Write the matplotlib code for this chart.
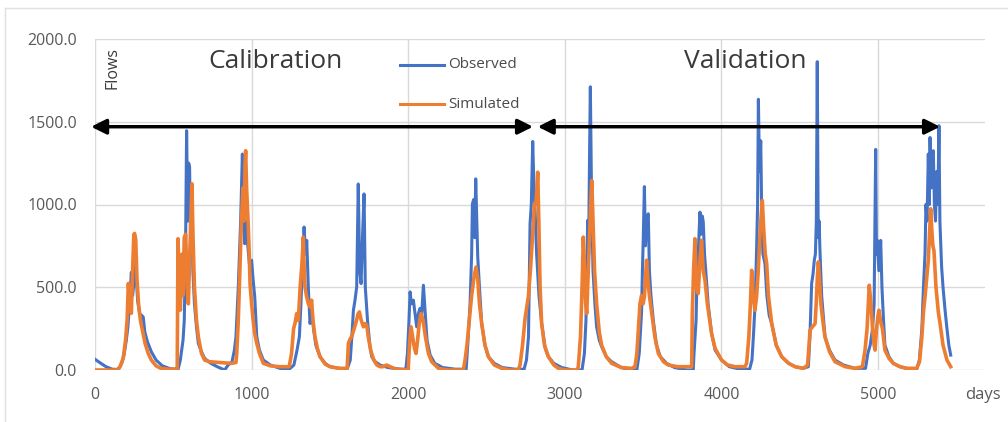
import matplotlib
matplotlib.use("Agg")
import matplotlib.pyplot as plt
from matplotlib.lines import Line2D

plt.rcParams['font.family'] = ['Open Sans', 'DejaVu Sans']

# observed flows, vertices (day, flow)
obs_day = [0, 30, 70, 110, 150, 170, 185, 200, 210, 222, 232, 240, 248, 256, 264, 272, 285, 298, 308, 318, 335, 360, 390, 430, 480, 530,
           545, 555, 562, 570, 578, 585, 592, 598, 604, 610, 618, 625, 635, 648, 660, 680, 700, 740, 780, 828, 850, 875, 890,
           900, 915, 930, 941, 948, 956, 965, 975, 988, 1000, 1010, 1020, 1033, 1050, 1075, 1120, 1180, 1240,
           1270, 1290, 1305, 1315, 1325, 1335, 1345, 1352, 1362, 1373, 1385, 1395, 1410, 1437, 1470, 1500, 1560, 1610,
           1630, 1640, 1650, 1660, 1671, 1681, 1690, 1699, 1708, 1718, 1726, 1740, 1755, 1767, 1790, 1820, 1870, 1950, 1985,
           1995, 2005, 2012, 2020, 2033, 2045, 2054, 2065, 2075, 2085, 2097, 2108, 2120, 2140, 2170, 2220, 2300, 2370,
           2380, 2395, 2405, 2410, 2418, 2425, 2431, 2438, 2444, 2455, 2469, 2490, 2512, 2550, 2600, 2680, 2740,
           2755, 2768, 2778, 2786, 2795, 2803, 2810, 2820, 2835, 2852, 2875, 2895, 2930, 2980, 3050, 3110,
           3125, 3135, 3146, 3152, 3157, 3163, 3170, 3180, 3192, 3203, 3220, 3235, 3265, 3299, 3360, 3427, 3460,
           3475, 3490, 3495, 3501, 3508, 3515, 3522, 3533, 3540, 3550, 3565, 3585, 3610, 3650, 3700, 3780, 3820,
           3825, 3838, 3845, 3852, 3858, 3863, 3870, 3878, 3884, 3892, 3900, 3915, 3937, 3960, 4001, 4050, 4120, 4180,
           4195, 4204, 4215, 4225, 4231, 4236, 4243, 4251, 4258, 4265, 4278, 4290, 4305, 4321, 4350, 4385, 4430, 4470, 4523, 4555,
           4565, 4576, 4585, 4593, 4600, 4606, 4612, 4618, 4624, 4629, 4640, 4661, 4690, 4725, 4780, 4853, 4920,
           4935, 4950, 4965, 4975, 4985, 4990, 4996, 5005, 5017, 5025, 5035, 5044, 5070, 5098, 5140, 5183, 5247,
           5264, 5280, 5290, 5300, 5306, 5313, 5321, 5327, 5332, 5340, 5346, 5353, 5360, 5367, 5375, 5382, 5389, 5395, 5406, 5415, 5428, 5440, 5452, 5464]
obs_flow = [65, 45, 20, 5, 3, 40, 90, 180, 260, 420, 590, 450, 520, 640, 560, 420, 340, 330, 320, 230, 170, 110, 60, 25, 8, 3,
            60, 130, 180, 300, 700, 1446, 900, 1250, 1225, 800, 1000, 600, 400, 260, 160, 110, 70, 40, 20, 0, 30, 50, 120,
            200, 500, 900, 1305, 1000, 763, 900, 760, 620, 663, 540, 443, 200, 120, 60, 30, 10, 5,
            30, 120, 201, 400, 650, 864, 700, 783, 500, 281, 350, 250, 150, 80, 40, 20, 10, 5,
            60, 200, 361, 420, 502, 1124, 600, 522, 800, 1064, 500, 300, 150, 80, 50, 30, 15, 5, 5,
            100, 300, 472, 400, 422, 330, 261, 340, 372, 320, 512, 350, 180, 90, 40, 15, 5, 5,
            150, 400, 700, 1004, 1030, 800, 1155, 900, 682, 500, 281, 150, 80, 40, 15, 5, 5,
            60, 200, 883, 1000, 1381, 1100, 964, 700, 450, 281, 130, 80, 40, 15, 0, 0,
            100, 300, 904, 700, 1225, 1711, 1100, 600, 400, 261, 180, 141, 80, 50, 15, 0, 0,
            100, 350, 582, 800, 1108, 750, 900, 944, 600, 450, 300, 150, 80, 40, 15, 0, 0,
            100, 300, 600, 700, 850, 954, 820, 930, 894, 700, 600, 400, 221, 120, 60, 20, 5, 5,
            60, 201, 400, 743, 1000, 1636, 1200, 1385, 900, 700, 643, 450, 330, 281, 150, 80, 40, 20, 10, 20,
            200, 522, 580, 663, 700, 900, 1863, 800, 900, 723, 450, 201, 120, 60, 30, 10, 10,
            100, 150, 250, 400, 1333, 700, 783, 600, 783, 500, 300, 150, 80, 40, 20, 10, 5,
            60, 250, 500, 703, 1000, 900, 1305, 1000, 1405, 1100, 1300, 1325, 1000, 900, 1200, 1000, 1476, 900, 622, 500, 361, 250, 150, 90]

# simulated flows
sim_day = [0, 140, 160, 180, 195, 205, 213, 220, 232, 240, 248, 253, 260, 268, 278, 290, 305, 320, 340, 360, 390, 420, 470, 520,
           525, 530, 538, 545, 555, 562, 570, 579, 588, 596, 605, 612, 619, 626, 635, 648, 660, 680, 700, 730, 800, 870, 900,
           905, 915, 925, 935, 945, 952, 958, 962, 968, 979, 985, 990, 1000, 1010, 1020, 1033, 1050, 1075, 1120, 1180, 1240,
           1255, 1268, 1277, 1288, 1298, 1310, 1322, 1330, 1336, 1341, 1350, 1362, 1375, 1383, 1392, 1405, 1420, 1437, 1470, 1500, 1560, 1610,
           1618, 1630, 1639, 1655, 1670, 1680, 1688, 1700, 1714, 1725, 1735, 1745, 1760, 1780, 1800, 1820, 1840, 1862, 1885, 1920, 2000,
           2005, 2012, 2018, 2028, 2040, 2050, 2060, 2070, 2082, 2095, 2110, 2129, 2150, 2193, 2250, 2352,
           2363, 2375, 2390, 2405, 2420, 2433, 2444, 2455, 2469, 2490, 2512, 2550, 2597, 2650, 2703,
           2714, 2730, 2746, 2757, 2767, 2780, 2790, 2800, 2806, 2815, 2822, 2827, 2834, 2842, 2852, 2870, 2895, 2930, 2959, 3000, 3080,
           3086, 3100, 3110, 3118, 3126, 3133, 3140, 3150, 3158, 3165, 3172, 3180, 3190, 3203, 3220, 3235, 3265, 3299, 3360, 3427, 3448,
           3460, 3470, 3480, 3490, 3500, 3508, 3515, 3522, 3530, 3540, 3555, 3575, 3597, 3630, 3661, 3720, 3810,
           3814, 3822, 3831, 3840, 3852, 3862, 3873, 3884, 3895, 3910, 3925, 3937, 3960, 4001, 4040, 4086, 4150,
           4161, 4175, 4185, 4193, 4203, 4214, 4225, 4235, 4245, 4255, 4261, 4270, 4280, 4289, 4300, 4321, 4350, 4385, 4430, 4470, 4523, 4550,
           4566, 4580, 4590, 4598, 4605, 4612, 4619, 4626, 4635, 4647, 4661, 4690, 4725, 4790, 4853, 4900,
           4917, 4930, 4944, 4955, 4965, 4975, 4981, 4990, 5000, 5006, 5015, 5028, 5044, 5070, 5098, 5140, 5183, 5247,
           5265, 5280, 5290, 5300, 5310, 5321, 5330, 5336, 5343, 5350, 5357, 5370, 5385, 5396, 5415, 5440, 5464]
sim_flow = [0, 0, 20, 70, 180, 300, 523, 420, 343, 600, 820, 825, 790, 550, 400, 300, 230, 160, 100, 60, 25, 10, 5, 5,
            10, 793, 500, 362, 700, 450, 800, 820, 500, 400, 700, 900, 1125, 800, 500, 300, 200, 100, 60, 50, 45, 40, 45,
            100, 300, 600, 900, 1100, 900, 1250, 1325, 1100, 864, 700, 522, 400, 300, 220, 161, 100, 40, 25, 20, 20,
            100, 250, 281, 341, 300, 500, 650, 803, 600, 502, 450, 400, 380, 422, 300, 200, 130, 80, 35, 20, 10, 10,
            161, 190, 201, 250, 300, 340, 351, 300, 261, 280, 271, 200, 120, 60, 30, 20, 20, 30, 20, 5, 0,
            100, 200, 261, 200, 130, 100, 180, 280, 341, 300, 200, 100, 50, 10, 0, 0,
            60, 150, 300, 450, 560, 622, 550, 400, 281, 150, 80, 30, 10, 0, 0,
            30, 150, 311, 380, 442, 600, 750, 900, 1004, 1000, 1100, 1195, 900, 500, 281, 150, 80, 30, 10, 0, 0,
            20, 200, 500, 803, 600, 400, 341, 600, 800, 1000, 1145, 900, 600, 400, 230, 150, 80, 40, 15, 10, 20,
            100, 250, 402, 450, 400, 442, 550, 663, 550, 450, 341, 200, 100, 50, 30, 20, 20,
            341, 600, 793, 500, 462, 650, 783, 600, 542, 400, 300, 221, 130, 60, 30, 20, 20,
            40, 200, 400, 602, 450, 361, 450, 600, 800, 950, 1024, 850, 700, 643, 450, 281, 150, 80, 40, 20, 10, 30,
            241, 260, 270, 281, 400, 550, 653, 550, 400, 300, 201, 110, 50, 20, 10, 20,
            120, 250, 512, 400, 250, 150, 120, 250, 330, 361, 300, 250, 120, 70, 40, 20, 10, 10,
            50, 200, 350, 442, 550, 663, 850, 974, 850, 750, 723, 500, 350, 281, 150, 60, 20]

x_ticks = [0, 1000, 2000, 3000, 4000, 5000]
y_ticks = [0, 500, 1000, 1500, 2000]
calib_span = (-25, 2797)
valid_span = (2827, 5396)
arrow_level = 1470

BLUE = '#4472C4'
ORANGE = '#ED7D31'
GREY = '#595959'

fig = plt.figure(figsize=(10.08, 4.22), dpi=100)
ax = fig.add_axes([95 / 1008, 52 / 422, 890 / 1008, 331 / 422])

ax.plot(obs_day, obs_flow, color=BLUE, lw=2.2, solid_joinstyle='round')
ax.plot(sim_day, sim_flow, color=ORANGE, lw=2.6, solid_joinstyle='round')

ax.set_xlim(0, 5683)
ax.set_ylim(0, 2000)
ax.set_xticks(x_ticks)
ax.set_xticklabels([str(v) for v in x_ticks])
ax.set_yticks(y_ticks)
ax.set_yticklabels([f'{v:.1f}' for v in y_ticks])
ax.tick_params(axis='both', length=0, labelsize=11.5, colors=GREY)
ax.tick_params(axis='y', pad=13)
ax.tick_params(axis='x', pad=12)
ax.grid(True, color='#d9d9d9', lw=1)
ax.set_axisbelow(True)
for s in ax.spines.values():
    s.set_visible(False)

# period arrows
for a, b in [calib_span, valid_span]:
    ax.annotate('', xy=(b, arrow_level), xytext=(a, arrow_level), annotation_clip=False,
                arrowprops=dict(arrowstyle='<|-|>,head_length=0.6,head_width=0.3', mutation_scale=15,
                                color='black', lw=2.5, shrinkA=0, shrinkB=0))

fig.text(275 / 1008, 1 - 62 / 422, 'Calibration', fontsize=19, color='#3a3a3a', ha='center', va='center')
fig.text(745 / 1008, 1 - 62 / 422, 'Validation', fontsize=19, color='#3a3a3a', ha='center', va='center')
fig.text(112 / 1008, 1 - 68 / 422, 'Flows', fontsize=11.5, color='#3a3a3a', rotation=90, ha='center', va='center')
fig.text(983 / 1008, 1 - 395 / 422, 'days', fontsize=12, color=GREY, ha='center', va='center')

# legend drawn as in the original
for ypx, col, lbl in [(65, BLUE, 'Observed'), (104, ORANGE, 'Simulated')]:
    yy = 1 - ypx / 422
    fig.add_artist(Line2D([400 / 1008, 444 / 1008], [yy, yy], color=col, lw=2.2))
    fig.text(448 / 1008, yy, lbl, fontsize=11, color='#4a4a4a', ha='left', va='center')

# outer chart frame (left and top edges visible)
fig.add_artist(Line2D([5 / 1008, 5 / 1008], [0, 1 - 8 / 422], color='#e0e0e0', lw=1))
fig.add_artist(Line2D([5 / 1008, 1], [1 - 8 / 422, 1 - 8 / 422], color='#e0e0e0', lw=1))

fig.savefig('out.png', dpi=100)
